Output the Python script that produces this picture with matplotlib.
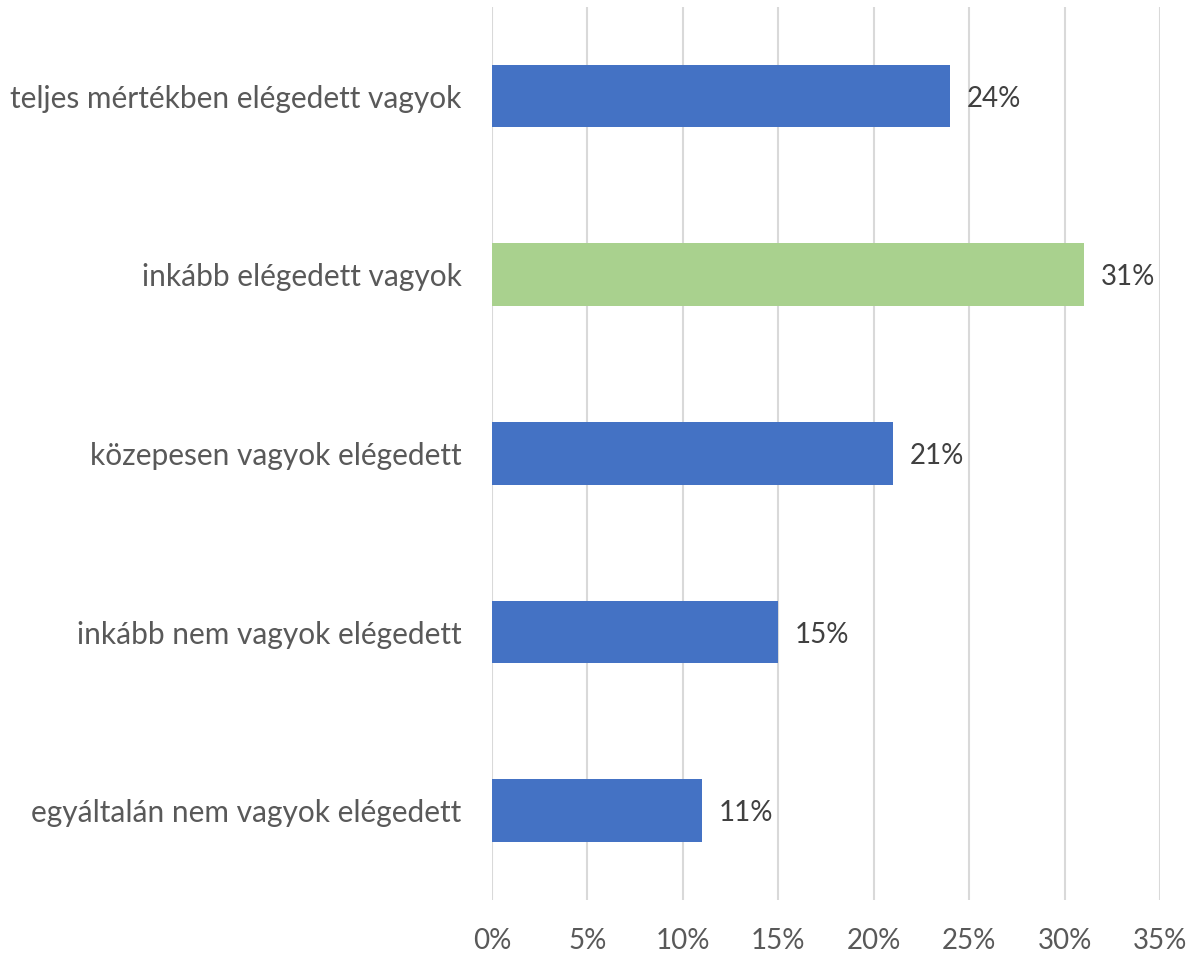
import matplotlib
matplotlib.use("Agg")
import matplotlib.pyplot as plt
from matplotlib.ticker import FuncFormatter, MultipleLocator

categories = [
    "teljes mértékben elégedett vagyok",
    "inkább elégedett vagyok",
    "közepesen vagyok elégedett",
    "inkább nem vagyok elégedett",
    "egyáltalán nem vagyok elégedett",
]
values = [24, 31, 21, 15, 11]
highlight = "inkább elégedett vagyok"

plt.rcParams["font.family"] = ["Lato", "DejaVu Sans"]

fig = plt.figure(figsize=(11.96, 9.6), dpi=100)
ax = fig.add_axes([0.4114, 0.0625, 0.5586, 0.9305])

positions = list(range(len(categories)))
colors = ["#A9D18E" if c == highlight else "#4472C4" for c in categories]
ax.barh(positions, values, height=0.35, color=colors, zorder=3)

for p, v in zip(positions, values):
    ax.annotate(f"{v}%", xy=(v, p), xytext=(12, -2), textcoords="offset points",
                va="center", ha="left", fontsize=20, color="#404040")

ax.set_xlim(0, 35)
ax.set_ylim(len(categories) - 0.5, -0.5)
ax.xaxis.set_major_locator(MultipleLocator(5))
ax.xaxis.set_major_formatter(FuncFormatter(lambda x, _: f"{x:.0f}%"))
ax.set_yticks(positions)
ax.set_yticklabels(categories)

ax.grid(axis="x", color="#D9D9D9", linewidth=1.5, zorder=0)
for s in ax.spines.values():
    s.set_visible(False)
ax.tick_params(axis="both", length=0, colors="#595959")
ax.tick_params(axis="x", pad=20, labelsize=20)
ax.tick_params(axis="y", pad=22, labelsize=21.5)

fig.savefig("out.png", dpi=100)
